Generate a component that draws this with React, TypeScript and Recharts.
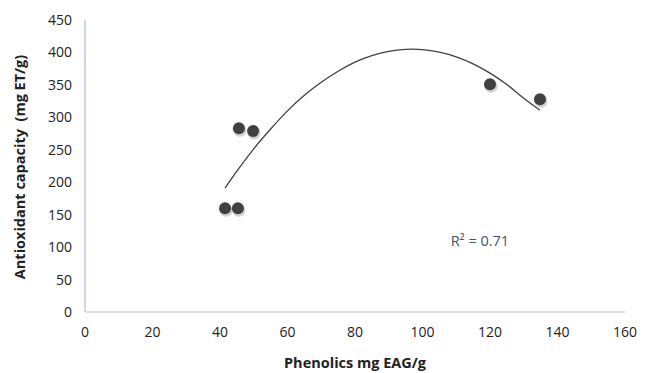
import React from "react";
import {
  ComposedChart,
  XAxis,
  YAxis,
  Scatter,
  Line,
  ReferenceDot,
} from "recharts";

const phenolics = [41.5, 45.3, 45.6, 49.8, 120, 134.8];
const antioxidant = [160, 160, 283, 279, 351, 328];

const trendX = [41.5, 45, 50, 55, 60, 65, 70, 75, 80, 85, 90, 95, 100, 105, 110, 115, 120, 125, 130, 134.8];
const trendY = [191, 217, 251.5, 282, 310, 334, 354, 371, 385, 395, 401.6, 404.7, 404.4, 400.6, 393.3, 382.5, 368.2, 350.5, 329.3, 311];

const xTicks = [0, 20, 40, 60, 80, 100, 120, 140, 160];
const yTicks = [0, 50, 100, 150, 200, 250, 300, 350, 400, 450];

const points = phenolics.map((x, i) => ({ x, y: antioxidant[i] }));
const trend = trendX.map((x, i) => ({ x, t: trendY[i] }));

const FONT = "'Open Sans', 'Liberation Sans', sans-serif";

const Dot = (props: any) => {
  const { cx, cy } = props;
  if (cx == null || cy == null) return null;
  return (
    <g>
      <circle cx={cx + 1} cy={cy + 2} r={6.5} fill="rgba(0,0,0,0.18)" />
      <circle cx={cx} cy={cy} r={6} fill="#404040" />
    </g>
  );
};

const YTitle = () => (
  <text
    transform="translate(25,167) rotate(-90)"
    textAnchor="middle"
    style={{ fill: "#222", fontSize: 14.5, fontWeight: 700, fontFamily: FONT, whiteSpace: "pre" }}
  >
    Antioxidant capacity  (mg ET/g)
  </text>
);

export default function App() {
  return (
    <div style={{ position: "absolute", left: 0, top: 0, background: "#fff" }}>
      <ComposedChart
        width={645}
        height={373}
        margin={{ top: 20, right: 20, bottom: 0, left: 0 }}
      >
        <XAxis
          type="number"
          dataKey="x"
          domain={[0, 160]}
          ticks={xTicks}
          tickLine={false}
          tickSize={0}
          tickMargin={15}
          height={61}
          axisLine={{ stroke: "#d0d8e0", strokeWidth: 1.5 }}
          tick={{ fill: "#222", fontSize: 14, fontFamily: FONT }}
          label={{
            value: "Phenolics mg EAG/g",
            position: "insideBottom",
            offset: 5,
            style: { fill: "#222", fontSize: 14.5, fontWeight: 700, fontFamily: FONT },
          }}
        />
        <YAxis
          type="number"
          domain={[0, 450]}
          ticks={yTicks}
          tickLine={false}
          tickSize={0}
          tickMargin={13}
          width={85}
          axisLine={{ stroke: "#bccbdc", strokeWidth: 1.5 }}
          tick={{ fill: "#222", fontSize: 14, fontFamily: FONT }}
          label={{ content: <YTitle /> }}
        />
        <Line
          data={trend}
          dataKey="t"
          type="natural"
          stroke="#404040"
          strokeWidth={1.3}
          dot={false}
          activeDot={false}
          isAnimationActive={false}
        />
        <Scatter
          data={points}
          dataKey="y"
          shape={<Dot />}
          isAnimationActive={false}
        />
        <ReferenceDot
          x={117}
          y={109}
          r={0}
          fill="none"
          stroke="none"
          label={{
            value: "R² = 0.71",
            position: "center",
            style: { fill: "#44546a", fontSize: 14.5, fontFamily: FONT },
          }}
        />
      </ComposedChart>
    </div>
  );
}
